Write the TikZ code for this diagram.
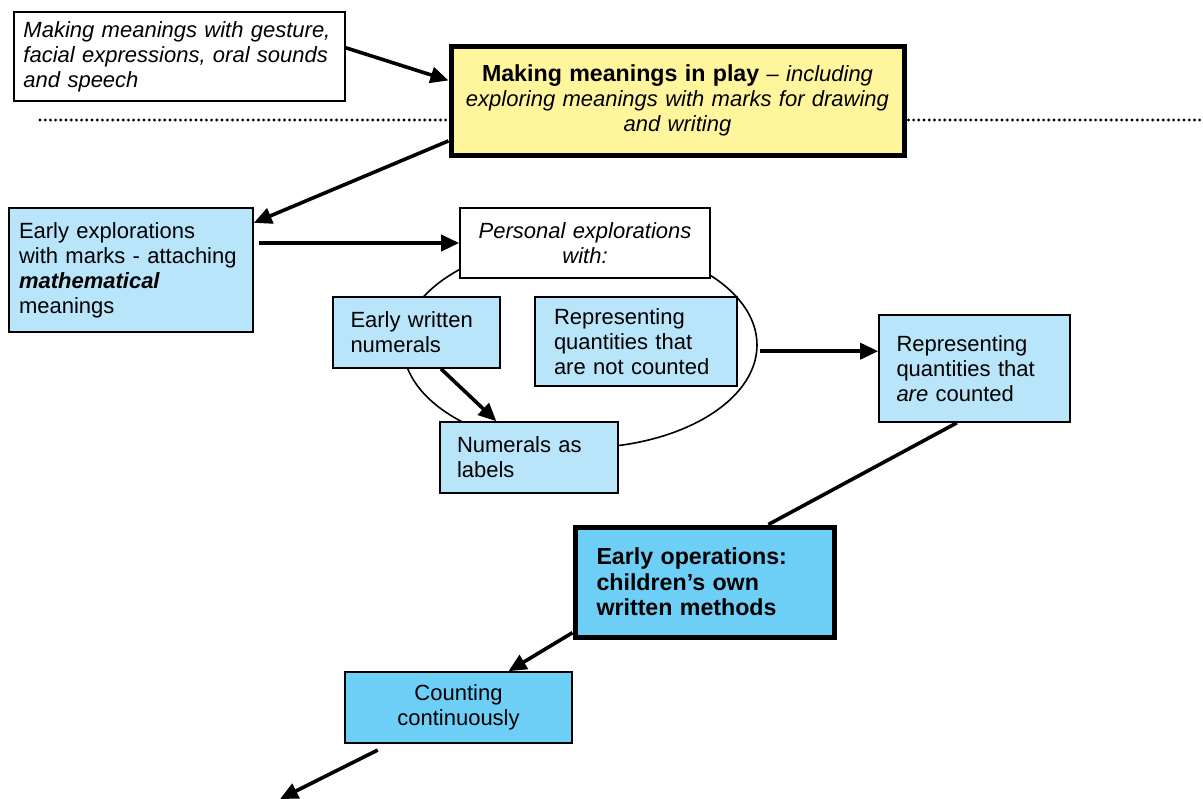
\documentclass[tikz,border=0pt]{standalone}
\usepackage{fontspec}
\setmainfont{Liberation Sans}
\usepackage{tikz}
\usetikzlibrary{calc,positioning,shapes}
\usetikzlibrary{arrows.meta}
\tikzstyle{every node}=[font=\fontsize{11}{12.5}\selectfont]
\tikzset{>={Triangle[width=8pt,length=9pt]}}
\definecolor{paleblue}{RGB}{185,229,250}
\definecolor{midblue}{RGB}{110,207,246}
\definecolor{paleyellow}{RGB}{255,245,157}
\hyphenpenalty=10000
\exhyphenpenalty=10000

\begin{document}
\begin{tikzpicture}[x=0.5pt,y=-0.5pt]
          \tikzstyle{wbox} = [draw, line width=0.8pt, fill=white, inner sep=0pt]
          \tikzstyle{lbox} = [draw, line width=0.8pt, fill=paleblue, inner sep=0pt, align=left]
          \tikzstyle{dbox} = [draw, line width=2.5pt, fill=midblue, inner sep=0pt]
          \tikzstyle{arr} = [->, line width=1.8pt]

          \useasboundingbox (0,0) rectangle (1203,798);

          % dotted divider behind the play box
          \coordinate (sepL) at (40,120);
          \coordinate (sepR) at (1203,120);
          \draw[line width=1.6pt, line cap=round, dash pattern=on 0pt off 2.6pt] (sepL)--(sepR);

          \node[draw, ellipse, line width=0.8pt, inner sep=0pt, minimum width=177pt, minimum height=103pt] (loop) at (580,345) {};

          \node[wbox, align=left, minimum width=165.5pt, minimum height=44.5pt, text width=156pt] (gest) at (179.5,56.5)
            {\itshape Making meanings with gesture,\\ facial expressions, oral sounds\\ and speech};
          \node[draw, line width=2.5pt, fill=paleyellow, inner sep=0pt, align=center, minimum width=226.5pt, minimum height=54.5pt, text width=215pt] (play) at (677.5,100.5)
            {{\fontsize{11.6}{12.5}\selectfont\bfseries Making meanings in play} \itshape – including\\ exploring meanings with marks for drawing\\ and writing};
          \node[lbox, minimum width=122pt, minimum height=62pt, text width=112pt] (early) at (131,270)
            {Early explorations\\ with marks - attaching\\ \textbf{\textit{mathematical}}\\ meanings};
          \node[wbox, align=center, minimum width=125pt, minimum height=35pt, text width=115pt] (pers) at (585,243)
            {\itshape Personal explorations\\ with:};
          \node[lbox, minimum width=83.5pt, minimum height=35.5pt, text width=66pt] (writ) at (416.5,332.5)
            {Early written\\ numerals};
          \node[lbox, minimum width=101pt, minimum height=44.5pt, text width=82pt] (notc) at (636,341.5)
            {Representing\\ quantities that\\ are not counted};
          \node[lbox, minimum width=89pt, minimum height=35.5pt, text width=72pt] (lab) at (529,457.5)
            {Numerals as\\ labels};
          \node[lbox, minimum width=95.5pt, minimum height=53.5pt, text width=78pt] (cnt) at (974.5,368.5)
            {Representing\\ quantities that\\ \textit{are} counted};
          \node[dbox, align=left, minimum width=129.5pt, minimum height=55pt, text width=108pt] (ops) at (704.5,582)
            {\fontsize{11.6}{13}\selectfont\bfseries Early operations:\\ children’s own\\ written methods};
          \node[dbox, line width=0.8pt, align=center, minimum width=113.5pt, minimum height=35.5pt, text width=100pt] (cont) at (458.5,707.5)
            {Counting\\ continuously};
          \coordinate (offpage) at (280,799);

          \draw[arr] (gest.3)--(play.175);
          \draw[arr] (play.190)--(early.21);
          \draw[arr, shorten <=2.5pt] (pers.west -| early.east)--(pers.west);
          \draw[arr] (writ.-56)--(lab.132);
          \draw[arr, shorten <=1.5pt] (loop.-2)--(loop.-2 -| cnt.west);
          \draw[line width=1.8pt] (cnt.-108)--(ops.42);
          \draw[arr] (ops.201)--(cont.36);
          \draw[arr, shorten <=7pt] (cont.208)--(offpage);
        \end{tikzpicture}
\end{document}
